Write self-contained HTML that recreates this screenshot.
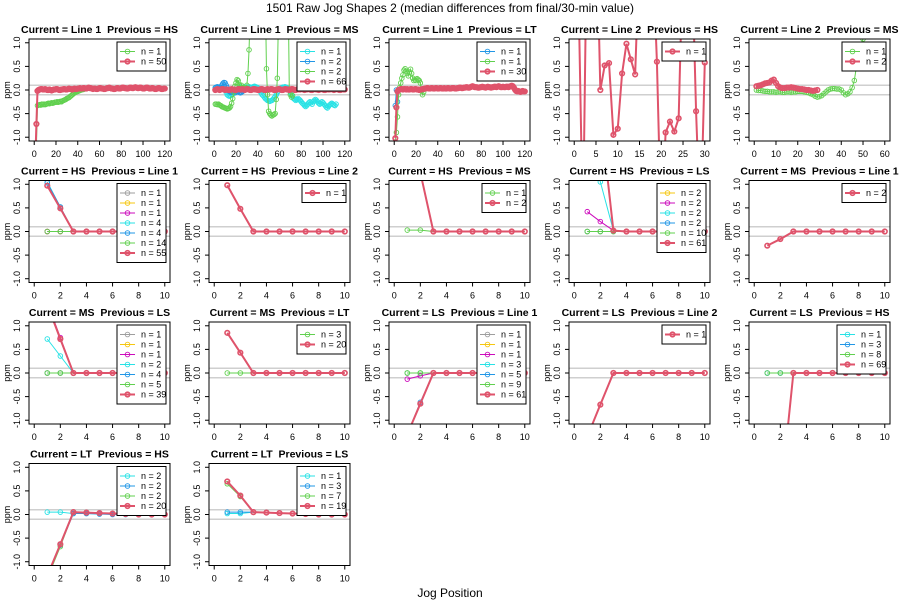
<!DOCTYPE html>
<html><head><meta charset="utf-8"><style>
html,body{margin:0;padding:0;background:#fff;}
svg{display:block;font-family:"Liberation Sans",Arial,sans-serif;}
svg text{white-space:pre;}
</style></head><body>
<svg id="chart" width="900" height="600" viewBox="0 0 900 600" xmlns="http://www.w3.org/2000/svg" xml:space="preserve">
<rect width="900" height="600" fill="#fff"/>
<text x="450" y="12" font-size="12" text-anchor="middle">1501 Raw Jog Shapes 2 (median differences from final/30-min value)</text>
<text x="450" y="597" font-size="12" text-anchor="middle">Jog Position</text>
</svg>
<script>
// colours (R 4 palette)
const GRAY="#9E9E9E",YEL="#F5C710",MAG="#CD0BBC",CYA="#28E2E5",BLU="#2297E6",GRN="#61D04F",RED="#DF536B";
const yTicks=[-1,-0.5,0,0.5,1];
const yTickLabels=["-1.0","-0.5","0.0","0.5","1.0"];
const xTicks120=[0,20,40,60,80,100,120];
const xTicks30=[0,5,10,15,20,25,30];
const xTicks60=[0,10,20,30,40,50,60];
const xTicks10=[0,2,4,6,8,10];

// ---- Row 1 data ----
const p11_green=[-1.2,-0.33,-0.32,-0.31,-0.32,-0.3,-0.31,-0.3,-0.31,-0.3,-0.29,-0.28,-0.29,-0.28,-0.27,-0.28,-0.27,-0.26,-0.26,-0.25,-0.26,-0.25,-0.24,-0.25,-0.23,-0.22,-0.21,-0.2,-0.18,-0.17,-0.16,-0.14,-0.12,-0.1,-0.08,-0.06,-0.05,-0.04,-0.03,-0.02,-0.01,0,0.01,0.01,0.02];
const p11_red=[-1.5,-0.72,-0.02,
0.0,0.01,0.02,0.02,0.01,0.01,0.02,0.01,0.0,0.0,0.01,0.0,-0.01,0.0,0.01,0.01,0.02,0.02,0.01,0.0,0.0,0.01,0.01,0.02,0.02,0.01,0.01,0.02,0.03,0.02,0.02,0.01,0.02,0.03,0.02,0.02,0.03,0.03,0.04,0.03,0.03,0.04,0.04,0.03,0.03,0.04,0.05,0.04,0.04,0.03,0.02,0.03,0.03,0.02,0.02,0.03,0.04,0.04,0.03,0.03,0.02,0.02,0.03,0.04,0.04,0.05,0.04,0.03,0.03,0.02,0.02,0.03,0.04,0.04,0.03,0.03,0.04,0.05,0.05,0.04,0.04,0.03,0.03,0.04,0.05,0.05,0.04,0.04,0.05,0.06,0.05,0.04,0.04,0.05,0.05,0.04,0.03,0.03,0.04,0.05,0.05,0.04,0.03,0.03,0.04,0.04,0.03,0.02,0.02,0.03,0.04,0.04,0.03,0.02,0.02,0.03,0.03];
const p12_cyan=[0.05,0.06,0.05,0.04,0.03,0.05,0.06,0.05,0.03,0.0,-0.05,-0.1,-0.12,-0.13,-0.12,-0.1,-0.08,-0.05,-0.02,0.0,0.02,0.03,0.05,0.06,0.05,0.04,0.06,0.07,0.06,0.05,0.06,0.07,0.06,0.05,0.06,0.07,0.08,0.07,0.06,0.05,0.02,-0.02,-0.06,-0.1,-0.12,-0.15,-0.18,-0.2,-0.22,-0.23,-0.24,-0.23,-0.22,-0.2,-0.17,-0.14,-0.1,-0.05,-0.02,0.02,0.04,0.05,0.06,0.06,0.07,0.06,0.05,0.03,0.0,-0.05,-0.1,-0.14,-0.18,-0.2,-0.22,-0.2,-0.18,-0.2,-0.22,-0.25,-0.28,-0.3,-0.33,-0.35,-0.33,-0.3,-0.27,-0.25,-0.27,-0.3,-0.25,-0.22,-0.2,-0.22,-0.25,-0.28,-0.3,-0.28,-0.25,-0.27,-0.3,-0.33,-0.36,-0.38,-0.35,-0.32,-0.3,-0.28,-0.3,-0.32,-0.33,-0.3];
const p12_blue=[0.05,0.06,0.07,0.05,0.04,0.06,0.1,0.14,0.16,0.15,0.1,0.05,0.0,-0.03,-0.05,-0.05,-0.04,-0.05,-0.06,-0.05,-0.04,-0.03,-0.05,-0.06,-0.05,-0.03,-0.01,0.0];
const p12_green=[-0.3,-0.3,-0.31,-0.3,-0.32,-0.33,-0.35,-0.36,-0.37,-0.38,-0.39,-0.4,-0.39,-0.38,-0.35,-0.28,-0.18,-0.05,0.08,0.15,0.22,0.2,0.12,0.08,0.1,0.05,0.02,0.03,0.05,0.1,0.35,0.85,1.6,2.5,3,3,3,3,3,3,3,3,3,3,3,3,2,0.45,-0.1,-0.45,-0.5,-0.53,-0.55,-0.53,-0.52,-0.5,-0.2,0.25,1.5,3,3,3,3,3,3,3,3,2,0.02,-0.1,-0.15,-0.12];
const p12_red=[0.0,0.01,0.02,0.01,0.0,0.01,0.02,0.02,0.01,0.0,0.01,0.01,0.0,0.0,0.01,0.02,0.01,0.01,0.0,0.0,0.01,0.02,0.02,0.01,0.01,0.02,0.01,0.0,0.01,0.02,0.02,0.01,0.0,0.0,0.01,0.02,0.02,0.01,0.01,0.0,0.0,0.01,0.02,0.02,0.01,0.0,0.0,0.01,0.02,0.01,0.01,0.02,0.02,0.01,0.0,0.0,0.01,0.01,0.02,0.02,0.01,0.0,0.0,0.01,0.02,0.02,0.01,0.01,0.0,0.01,0.02,0.02,0.01,0.0,0.0,0.01,0.02,0.01,0.01,0.02,0.02,0.01,0.0,0.01,0.01,0.02,0.02,0.01,0.0,0.0,0.01,0.02,0.02,0.01,0.01,0.0,0.01,0.02,0.02,0.01,0.0,0.0,0.01,0.02,0.01,0.01,0.02,0.02,0.01,0.0,0.01,0.02,0.02,0.01,0.0,0.0,0.01,0.02,0.01,0.01];
const p13_blue=[-0.33,0.0,-0.25];
const p13_green=[-1.1,-0.9,-0.57,-0.1,0.05,0.15,0.25,0.32,0.42,0.45,0.4,0.35,0.3,0.38,0.44,0.35,0.25,0.2,0.22,0.2,0.24,0.22,0.2,0.15,0.0,-0.1,-0.05];
const p13_red=[-1.02,-0.37,-0.03,
0.0,0.01,0.02,0.02,0.01,0.02,0.02,0.01,0.02,0.01,0.01,0.02,0.02,0.01,0.01,0.02,0.02,0.01,0.01,0.0,0.01,0.01,0.02,0.02,0.03,0.03,0.04,0.04,0.03,0.03,0.04,0.04,0.03,0.03,0.04,0.04,0.03,0.03,0.04,0.04,0.03,0.03,0.04,0.03,0.03,0.04,0.04,0.03,0.03,0.04,0.04,0.04,0.03,0.03,0.04,0.04,0.05,0.05,0.04,0.04,0.05,0.05,0.06,0.06,0.05,0.05,0.06,0.07,0.08,0.07,0.06,0.06,0.06,0.05,0.05,0.06,0.06,0.07,0.06,0.06,0.05,0.06,0.07,0.06,0.06,0.05,0.06,0.06,0.07,0.07,0.06,0.07,0.08,0.07,0.06,0.06,0.07,0.06,0.06,0.07,0.07,0.06,0.07,0.08,0.09,0.08,0.05,0.01,-0.02,-0.03,-0.02,-0.03,-0.04,-0.03,-0.02,-0.03,-0.03];
const p14_red=[2,-3,4,4,4,0.0,0.52,0.57,-0.95,-0.82,0.35,0.98,0.65,0.33,3,3,3,3,0.6,-3,-0.9,-0.67,-0.88,-0.6,3,3,3,-0.45,-3,0.58];
const p15_green=[0.0,-0.01,-0.01,-0.02,-0.03,-0.03,-0.04,-0.04,-0.04,-0.05,-0.04,-0.04,-0.05,-0.05,-0.04,-0.04,-0.05,-0.04,-0.04,-0.03,-0.03,-0.03,-0.04,-0.05,-0.06,-0.08,-0.1,-0.13,-0.15,-0.14,-0.12,-0.08,-0.04,0.0,0.02,0.03,0.03,0.02,0.02,0.0,-0.06,-0.1,-0.08,-0.04,0.05,0.2,0.5,0.75,0.95,1.08];
const p15_red=[0.08,0.09,0.1,0.12,0.14,0.15,0.16,0.2,0.22,0.15,0.08,0.05,0.04,0.04,0.05,0.05,0.06,0.05,0.04,0.03,0.02,0.02,0.01,0,0,-0.01,-0.02,-0.01,0.0];

// ---- Rows 2-4 data (jog positions 1..10) ----
const p21_gray=[0,0,0,0,0,0,0,0,0,0], p21_yel=[0,0,0,0,0,0,0,0,0,0], p21_mag=[0,0,0,0,0,0,0,0,0,0];
const p21_cya=[1.05,0.52,0,0,0,0,0,0,0,0], p21_blu=[1.03,0.52,0,0,0,0,0,0,0,0], p21_grn=[0,0,0,0,0,0,0,0,0,0];
const p21_red=[0.97,0.49,0,0,0,0,0,0,0,0];
const p22_red=[0.98,0.48,0,0,0,0,0,0,0,0];
const p23_grn=[0.03,0.03,0.0,0,0,0,0,0,0,0], p23_red=[2.5,1.25,0,0,0,0,0,0,0,0];
const p24_yel=[0,0,0,0,0,0,0,0,0,0], p24_mag=[0.42,0.21,0.02,0,0,0,0,0,0,0], p24_cya=[2.0,1.05,0.02,0,0,0,0,0,0,0];
const p24_blu=[0,0,0,0,0,0,0,0,0,0], p24_grn=[0,0,0,0,0,0,0,0,0,0], p24_red=[5,2.5,0.02,0,0,0,0,0,0,0];
const p25_red=[-0.3,-0.16,0,0,0,0,0,0,0,0];
const p31_gray=[0,0,0,0,0,0,0,0,0,0], p31_yel=[0,0,0,0,0,0,0,0,0,0], p31_mag=[1.5,0.75,0,0,0,0,0,0,0,0];
const p31_cya=[0.72,0.36,0,0,0,0,0,0,0,0], p31_blu=[0,0,0,0,0,0,0,0,0,0], p31_grn=[0,0,0,0,0,0,0,0,0,0];
const p31_red=[1.45,0.72,0,0,0,0,0,0,0,0];
const p32_grn=[0,0,0,0,0,0,0,0,0,0], p32_red=[0.85,0.43,0,0,0,0,0,0,0,0];
const p33_gray=[0,0,0,0,0,0,0,0,0,0], p33_yel=[0,0,0,0,0,0,0,0,0,0], p33_mag=[-0.13,-0.06,0,0,0,0,0,0,0,0];
const p33_cya=[0,0,0,0,0,0,0,0,0,0], p33_blu=[-1.3,-0.62,0,0,0,0,0,0,0,0], p33_grn=[0,0,0,0,0,0,0,0,0,0];
const p33_red=[-1.3,-0.65,0,0,0,0,0,0,0,0];
const p34_red=[-1.35,-0.67,0,0,0,0,0,0,0,0];
const p35_cya=[0,0,0,0,0,0,0,0,0,0], p35_blu=[0,0,0,0,0,0,0,0,0,0], p35_grn=[0,0,0,0,0,0,0,0,0,0];
const p35_red=[-5.4,-2.7,0,0,0,0,0,0,0,0];
const p41_cya=[0.05,0.05,0.02,0.02,0.01,0.01,0,0,0,0], p41_blu=[-1.3,-0.65,0.02,0.02,0.01,0,0,0,0,0];
const p41_grn=[-1.35,-0.68,0.05,0.04,0.03,0.02,0.01,0,0,0], p41_red=[-1.3,-0.63,0.05,0.04,0.03,0.02,0.01,0,0,0];
const p42_cya=[0.02,0.02,0.05,0.04,0.03,0.02,0.01,0,0,0], p42_blu=[0.05,0.05,0.05,0.04,0.03,0.02,0.01,0,0,0];
const p42_grn=[0.65,0.38,0.05,0.04,0.03,0.02,0.01,0,0,0], p42_red=[0.7,0.4,0.05,0.04,0.03,0.02,0.01,0,0,0];

function S(col,n,data){return {col,n,data};}
const panels=[
 {r:0,c:0,title:"Current = Line 1  Previous = HS",xmax:120,ticks:xTicks120,series:[S(GRN,"1",p11_green),S(RED,"50",p11_red)],starts:[2,1]},
 {r:0,c:1,title:"Current = Line 1  Previous = MS",xmax:120,ticks:xTicks120,series:[S(CYA,"1",p12_cyan),S(BLU,"2",p12_blue),S(GRN,"2",p12_green),S(RED,"66",p12_red)]},
 {r:0,c:2,title:"Current = Line 1  Previous = LT",xmax:120,ticks:xTicks120,series:[S(BLU,"1",p13_blue),S(GRN,"1",p13_green),S(RED,"30",p13_red)]},
 {r:0,c:3,title:"Current = Line 2  Previous = HS",xmax:30,ticks:xTicks30,series:[S(RED,"1",p14_red)]},
 {r:0,c:4,title:"Current = Line 2  Previous = MS",xmax:60,ticks:xTicks60,series:[S(GRN,"1",p15_green),S(RED,"2",p15_red)]},
 {r:1,c:0,title:"Current = HS  Previous = Line 1",xmax:10,ticks:xTicks10,series:[S(GRAY,"1",p21_gray),S(YEL,"1",p21_yel),S(MAG,"1",p21_mag),S(CYA,"4",p21_cya),S(BLU,"4",p21_blu),S(GRN,"14",p21_grn),S(RED,"55",p21_red)]},
 {r:1,c:1,title:"Current = HS  Previous = Line 2",xmax:10,ticks:xTicks10,series:[S(RED,"1",p22_red)]},
 {r:1,c:2,title:"Current = HS  Previous = MS",xmax:10,ticks:xTicks10,series:[S(GRN,"1",p23_grn),S(RED,"2",p23_red)]},
 {r:1,c:3,title:"Current = HS  Previous = LS",xmax:10,ticks:xTicks10,series:[S(YEL,"2",p24_yel),S(MAG,"2",p24_mag),S(CYA,"2",p24_cya),S(BLU,"2",p24_blu),S(GRN,"10",p24_grn),S(RED,"61",p24_red)]},
 {r:1,c:4,title:"Current = MS  Previous = Line 1",xmax:10,ticks:xTicks10,series:[S(RED,"2",p25_red)]},
 {r:2,c:0,title:"Current = MS  Previous = LS",xmax:10,ticks:xTicks10,series:[S(GRAY,"1",p31_gray),S(YEL,"1",p31_yel),S(MAG,"1",p31_mag),S(CYA,"2",p31_cya),S(BLU,"4",p31_blu),S(GRN,"5",p31_grn),S(RED,"39",p31_red)]},
 {r:2,c:1,title:"Current = MS  Previous = LT",xmax:10,ticks:xTicks10,series:[S(GRN,"3",p32_grn),S(RED,"20",p32_red)]},
 {r:2,c:2,title:"Current = LS  Previous = Line 1",xmax:10,ticks:xTicks10,series:[S(GRAY,"1",p33_gray),S(YEL,"1",p33_yel),S(MAG,"1",p33_mag),S(CYA,"3",p33_cya),S(BLU,"5",p33_blu),S(GRN,"9",p33_grn),S(RED,"61",p33_red)]},
 {r:2,c:3,title:"Current = LS  Previous = Line 2",xmax:10,ticks:xTicks10,series:[S(RED,"1",p34_red)]},
 {r:2,c:4,title:"Current = LS  Previous = HS",xmax:10,ticks:xTicks10,series:[S(CYA,"1",p35_cya),S(BLU,"3",p35_blu),S(GRN,"8",p35_grn),S(RED,"69",p35_red)]},
 {r:3,c:0,title:"Current = LT  Previous = HS",xmax:10,ticks:xTicks10,series:[S(CYA,"2",p41_cya),S(BLU,"2",p41_blu),S(GRN,"2",p41_grn),S(RED,"20",p41_red)]},
 {r:3,c:1,title:"Current = LT  Previous = LS",xmax:10,ticks:xTicks10,series:[S(CYA,"1",p42_cya),S(BLU,"3",p42_blu),S(GRN,"7",p42_grn),S(RED,"19",p42_red)]}
];

const NS="http://www.w3.org/2000/svg";
const svg=document.getElementById("chart");
function mk(tag,attrs,parent){const e=document.createElementNS(NS,tag);for(const k in attrs)e.setAttribute(k,attrs[k]);(parent||svg).appendChild(e);return e;}

const W=141,H=102;
panels.forEach((p,pi)=>{
  const L=29+180*p.c, T=39+141.5*p.r;
  const g=mk("g",{});
  
  
  const x0=-0.04*p.xmax, x1=1.04*p.xmax, y0=-1.08, y1=1.08;
  const sx=v=>L+(v-x0)/(x1-x0)*W;
  const sy=v=>T+(y1-v)/(y1-y0)*H;
  const cid="clip"+pi;
  const cp=mk("clipPath",{id:cid},g); mk("rect",{x:L,y:T,width:W,height:H},cp);
  [0.1,-0.1].forEach(v=>{
    const l=mk("line",{x1:L,x2:L+W,y1:sy(v),y2:sy(v),stroke:"#cfcfcf","stroke-width":1.5},g);
    
    
  });
  const sg=mk("g",{"clip-path":"url(#"+cid+")"},g);
  p.series.forEach((s,si)=>{
    const start=(p.starts?p.starts[si]:1);
    const pts=s.data.map((v,i)=>[sx(start+i),sy(v)]);
    const red=s.col===RED;
    const pl=mk("polyline",{points:pts.map(q=>q[0].toFixed(2)+","+q[1].toFixed(2)).join(" "),fill:"none",stroke:s.col,"stroke-width":red?2:1},sg);
    
    
    pts.forEach(q=>{
      const c=mk("circle",{cx:q[0],cy:q[1],r:2.3,fill:"none",stroke:s.col,"stroke-width":red?1.6:0.9},sg);
      
      
    });
  });
  const bx=mk("rect",{x:L,y:T,width:W,height:H,fill:"none",stroke:"#000","stroke-width":1},g);
  
  
  const t=mk("text",{x:L+W/2,y:T-6,"font-size":10.5,"font-weight":"bold","text-anchor":"middle"},g); t.textContent=p.title;
  
  
  yTicks.forEach((v,i)=>{
    mk("line",{x1:L-4,x2:L,y1:sy(v),y2:sy(v),stroke:"#000","stroke-width":1},g);
    const yl=mk("text",{x:0,y:0,"font-size":9,"text-anchor":"middle",transform:"translate("+(L-9)+","+sy(v)+") rotate(-90)"},g);
    yl.textContent=yTickLabels[i];
    
    
  });
  const ya=mk("text",{x:0,y:0,"font-size":9,"text-anchor":"middle",transform:"translate("+(L-19)+","+(T+H/2)+") rotate(-90)"},g);
  ya.textContent="ppm";
  
  
  p.ticks.forEach(v=>{
    mk("line",{x1:sx(v),x2:sx(v),y1:T+H,y2:T+H+4,stroke:"#000","stroke-width":1},g);
    const xl=mk("text",{x:sx(v),y:T+H+16,"font-size":9,"text-anchor":"middle"},g); xl.textContent=v;
    
    
  });
  const n=p.series.length;
  const two=p.series.some(s=>s.n.length>1);
  const lw=two?49:44, lh=10*n+9;
  const lx=L+W-4-lw, ly=T+3;
  const lg=mk("g",{},g);
  
  
  mk("rect",{x:lx,y:ly,width:lw,height:lh,fill:"#fff",stroke:"#000","stroke-width":1},lg);
  p.series.forEach((s,i)=>{
    const cy=ly+9.5+10*i, red=s.col===RED;
    mk("line",{x1:lx+3,x2:lx+18,y1:cy,y2:cy,stroke:s.col,"stroke-width":red?2:1},lg);
    mk("circle",{cx:lx+10.5,cy:cy,r:2.3,fill:"none",stroke:s.col,"stroke-width":red?1.6:0.9},lg);
    const tx=mk("text",{x:lx+24,y:cy+3,"font-size":9},lg); tx.textContent="n = "+s.n;
    
    
  });
});
</script>
</body></html>
